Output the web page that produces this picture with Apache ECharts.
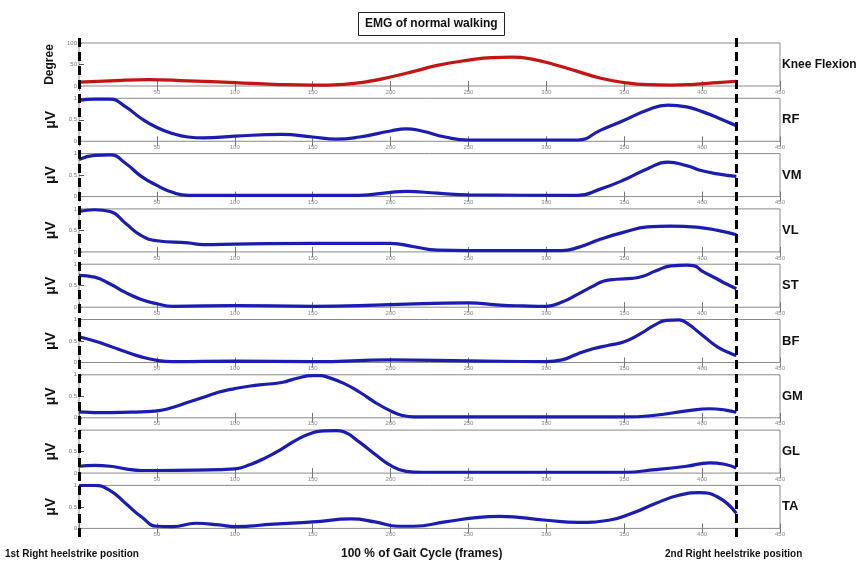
<!DOCTYPE html>
<html><head><meta charset="utf-8">
<script src="https://cdn.jsdelivr.net/npm/echarts@6/dist/echarts.min.js"></script>
<style>html,body{margin:0;padding:0;background:#fff}#c{width:858px;height:565px}</style>
</head><body><div id="c"></div>
<script>
// ---- data (frame, value) ----
const panelNames = ['Knee Flexion','RF','VM','VL','ST','BF','GM','GL','TA'];
const xTicks = [0,50,100,150,200,250,300,350,400,450];
const heelstrikes = [0, 422];
const KNEE = [[0,9],[20,12],[45,15],[70,12],[100,8],[125,4],[150,2],[170,4],[185,10],[200,21],[215,34],[230,48],[250,60],[265,66],[278,67],[290,63],[305,50],[320,34],[335,18],[350,8],[365,3],[380,2],[395,4],[410,8],[422,11]];
const RF = [[0,0.95],[10,0.98],[20,0.98],[30,0.8],[40,0.53],[50,0.32],[60,0.18],[70,0.1],[80,0.08],[100,0.12],[130,0.16],[150,0.1],[165,0.05],[180,0.1],[200,0.24],[210,0.29],[220,0.24],[235,0.1],[250,0.03],[300,0.03],[320,0.03],[335,0.26],[350,0.49],[365,0.73],[378,0.84],[390,0.8],[400,0.69],[410,0.55],[422,0.36]];
const VM = [[0,0.86],[10,0.96],[20,0.97],[30,0.77],[40,0.47],[50,0.26],[60,0.1],[70,0.03],[100,0.03],[180,0.03],[200,0.1],[210,0.12],[230,0.08],[250,0.04],[320,0.03],[335,0.18],[350,0.39],[365,0.65],[378,0.8],[390,0.72],[400,0.6],[410,0.53],[422,0.47]];
const VL = [[0,0.94],[10,0.98],[20,0.94],[30,0.66],[40,0.38],[50,0.26],[70,0.21],[80,0.17],[100,0.18],[150,0.2],[200,0.2],[215,0.12],[230,0.04],[250,0.03],[310,0.03],[320,0.1],[335,0.3],[350,0.46],[365,0.58],[380,0.6],[400,0.56],[410,0.5],[422,0.4]];
const ST = [[0,0.74],[10,0.7],[20,0.54],[30,0.34],[40,0.18],[50,0.08],[60,0.02],[100,0.04],[150,0.02],[200,0.06],[250,0.1],[270,0.05],[285,0.03],[300,0.02],[310,0.12],[320,0.3],[330,0.49],[337,0.61],[345,0.65],[355,0.67],[362,0.72],[370,0.84],[380,0.96],[390,0.98],[395,0.96],[400,0.84],[410,0.65],[415,0.55],[422,0.43]];
const BF = [[0,0.6],[10,0.5],[20,0.38],[30,0.25],[40,0.13],[50,0.05],[60,0.02],[100,0.03],[150,0.02],[200,0.06],[250,0.04],[300,0.02],[310,0.06],[320,0.2],[330,0.32],[340,0.4],[350,0.48],[360,0.66],[370,0.88],[377,0.98],[385,0.99],[390,0.92],[400,0.64],[410,0.36],[422,0.16]];
const GM = [[0,0.14],[20,0.12],[40,0.14],[50,0.16],[60,0.24],[70,0.36],[80,0.48],[90,0.6],[100,0.68],[110,0.74],[120,0.78],[130,0.82],[140,0.92],[150,0.98],[155,0.98],[160,0.94],[170,0.8],[180,0.6],[190,0.36],[200,0.16],[207,0.06],[215,0.02],[250,0.02],[350,0.02],[370,0.06],[390,0.16],[405,0.21],[415,0.18],[422,0.13]];
const GL = [[0,0.16],[10,0.18],[20,0.16],[30,0.1],[40,0.06],[50,0.06],[75,0.07],[100,0.1],[110,0.2],[120,0.36],[130,0.56],[140,0.78],[150,0.94],[157,0.98],[165,0.99],[170,0.96],[180,0.72],[190,0.44],[200,0.18],[210,0.04],[220,0.02],[250,0.02],[350,0.02],[370,0.08],[390,0.16],[405,0.24],[415,0.2],[422,0.12]];
const TA = [[0,1.0],[10,1.0],[20,0.88],[30,0.58],[40,0.27],[50,0.05],[60,0.04],[75,0.12],[90,0.08],[100,0.04],[125,0.1],[150,0.15],[175,0.22],[190,0.15],[205,0.05],[215,0.05],[235,0.15],[255,0.25],[270,0.28],[300,0.19],[320,0.14],[340,0.19],[355,0.35],[370,0.58],[385,0.77],[398,0.83],[410,0.73],[422,0.35]];
const panelData = [KNEE,RF,VM,VL,ST,BF,GM,GL,TA];
const yMaxes = [100,1,1,1,1,1,1,1,1];
const yNames = ['Degree','μV','μV','μV','μV','μV','μV','μV','μV'];

// ---- layout ----
const FONT = '"Liberation Sans Narrow","Arial Narrow","Liberation Sans",sans-serif';
const L = 79, W = 701, TOP0 = 43, STEP = 55.3, H = 43;
const grids = [], xAxes = [], yAxes = [], series = [];
panelData.forEach((d, i) => {
  const top = TOP0 + i * STEP;
  grids.push({left: L, width: W, top: top, height: H, show: true, borderColor: '#8a8a8a', borderWidth: 1,
    backgroundColor: '#fff', containLabel: false, outerBoundsMode: 'none'});
  const common = {gridIndex: i, type: 'value', min: xTicks[0], max: xTicks[xTicks.length-1], interval: 50,
    splitLine: {show: false}, axisLine: {show: false}};
  xAxes.push(Object.assign({}, common, {position: 'bottom',
    axisTick: {show: true, inside: true, length: 5, lineStyle: {color: '#777'}},
    axisLabel: {fontSize: 6, color: '#888', margin: 3, fontFamily: FONT, formatter: v => v === 0 ? '' : String(v)}}));
  xAxes.push(Object.assign({}, common, {position: 'top',
    axisTick: {show: true, inside: true, length: 5, lineStyle: {color: '#777'}},
    axisLabel: {show: false}}));
  const ym = yMaxes[i];
  yAxes.push({gridIndex: i, type: 'value', min: 0, max: ym, interval: ym / 2, position: 'left',
    splitLine: {show: false}, axisLine: {show: false},
    axisTick: {show: true, inside: true, length: 3, lineStyle: {color: '#777'}},
    axisLabel: {fontSize: 6, color: '#777', margin: 2, fontFamily: FONT},
    name: yNames[i], nameLocation: 'middle', nameRotate: 90, nameGap: i === 0 ? 14 : 19,
    nameTextStyle: {fontSize: i === 0 ? 12 : 14, fontWeight: 'bold', color: '#111', fontFamily: FONT}});
  yAxes.push({gridIndex: i, type: 'value', min: 0, max: ym, interval: ym / 2, position: 'right',
    splitLine: {show: false}, axisLine: {show: false},
    axisTick: {show: true, inside: false, length: 5, customValues: [ym / 2], lineStyle: {color: '#555'}},
    axisLabel: {show: true, customValues: [ym / 2], fontSize: i === 0 ? 12 : 13, fontWeight: 'bold', color: '#111', margin: 2, fontFamily: FONT,
      formatter: v => (v === ym / 2 ? panelNames[i] : '')}});
  series.push({type: 'line', xAxisIndex: 2 * i, yAxisIndex: 2 * i, data: d, showSymbol: false, symbol: 'none',
    smooth: 0.5, silent: true,
    lineStyle: {color: i === 0 ? '#c41414' : '#1c1cb0', width: 3.2}});
});
// overlay grid for heelstrike dashed lines
const ov = panelData.length;
grids.push({left: L, width: W, top: 38, height: 499, show: false, containLabel: false, outerBoundsMode: 'none'});
xAxes.push({gridIndex: ov, type: 'value', min: 0, max: 450, show: false});
yAxes.push({gridIndex: ov, type: 'value', min: 0, max: 1, show: false});
series.push({type: 'line', xAxisIndex: 2 * ov, yAxisIndex: 2 * ov, data: [], silent: true, z: 10,
  markLine: {silent: true, symbol: 'none', label: {show: false},
    lineStyle: {color: '#000', width: 3, type: [9, 5]},
    data: heelstrikes.map(h => ({xAxis: h}))}});

const chart = echarts.init(document.getElementById('c'), null, {renderer: 'canvas'});
chart.setOption({
  backgroundColor: '#fff',
  animation: false,
  title: {text: 'EMG of normal walking', left: 358, top: 12, padding: [6, 7],
    borderColor: '#222', borderWidth: 1,
    textStyle: {fontSize: 12, fontWeight: 'bold', color: '#111', fontFamily: FONT}},
  grid: grids, xAxis: xAxes, yAxis: yAxes, series: series,
  graphic: [
    {type: 'text', left: 5, top: 549, style: {text: '1st Right heelstrike position', fontSize: 10, fontWeight: 'bold', fill: '#111', fontFamily: FONT}},
    {type: 'text', left: 341, top: 548, style: {text: '100 % of Gait Cycle (frames)', fontSize: 12, fontWeight: 'bold', fill: '#111', fontFamily: FONT}},
    {type: 'text', left: 665, top: 549, style: {text: '2nd Right heelstrike position', fontSize: 10, fontWeight: 'bold', fill: '#111', fontFamily: FONT}}
  ]
});
</script></body></html>
